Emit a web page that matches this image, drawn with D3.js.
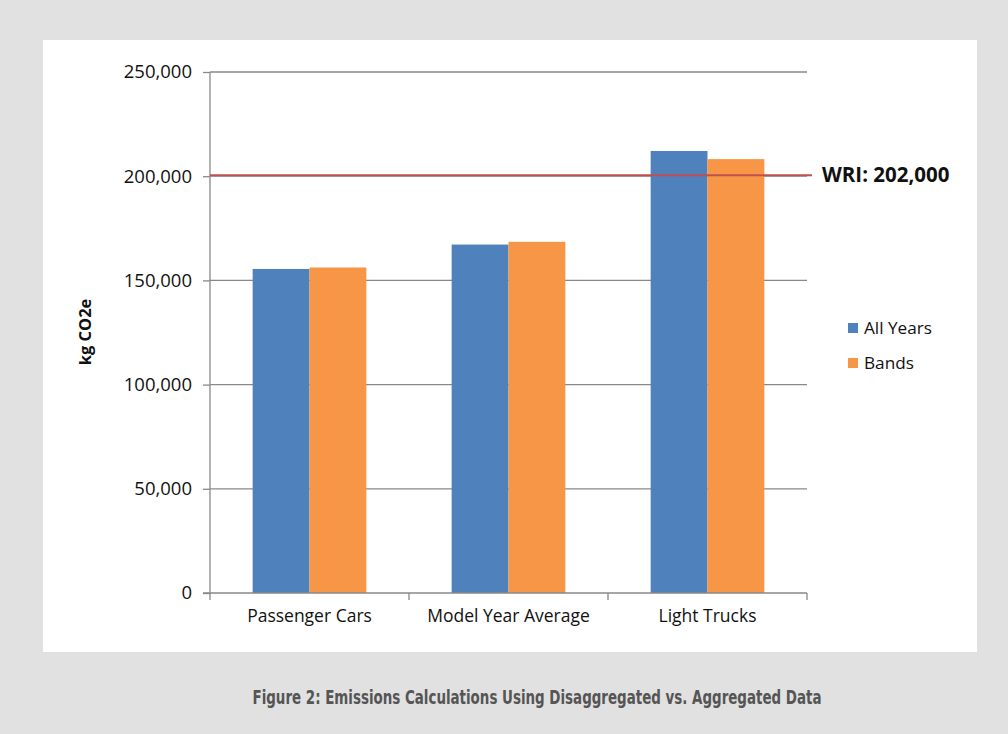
<!DOCTYPE html>
<html><head><meta charset="utf-8">
<script src="https://cdn.jsdelivr.net/npm/d3@7"></script>
<style>
body{margin:0;background:#e1e1e1;}
svg{display:block;}
</style></head>
<body>
<svg id="chart" width="1008" height="734"></svg>
<script>
const categories = ["Passenger Cars", "Model Year Average", "Light Trucks"];
const seriesNames = ["All Years", "Bands"];
const allYears = [155500, 167200, 212100];
const bands = [156200, 168500, 208200];
const yTicks = [0, 50000, 100000, 150000, 200000, 250000];
const wriValue = 200500;
const wriLabel = "WRI: 202,000";
const yTitle = "kg CO2e";
const caption = "Figure 2: Emissions Calculations Using Disaggregated vs. Aggregated Data";
const colors = ["#4f81bd", "#f79646"];

(function(){
const svg = d3.select("#chart");
const font = "'Open Sans','Noto Sans',sans-serif";

svg.append("rect").attr("x",0).attr("y",0).attr("width",1008).attr("height",734).attr("fill","#e1e1e1");
svg.append("rect").attr("x",43).attr("y",40).attr("width",934).attr("height",612).attr("fill","#ffffff");

const pL = 210, pR = 807, pT = 72, pB = 593;
const x = d3.scaleBand().domain(categories).range([pL, pR]).paddingInner(0).paddingOuter(0);
const y = d3.scaleLinear().domain([0, 250000]).range([pB, pT]);
const x1 = d3.scaleBand().domain(seriesNames).range([0, x.bandwidth()]).paddingOuter(0.75).paddingInner(0);

svg.append("g").selectAll("line").data(yTicks.filter(d=>d>0)).join("line")
  .attr("x1", pL).attr("x2", pR)
  .attr("y1", d=>y(d)).attr("y2", d=>y(d))
  .attr("stroke","#898989").attr("stroke-width",1.3);

const data = categories.map((c,i)=>({cat:c, vals:[allYears[i], bands[i]]}));
const g = svg.append("g");
data.forEach(d=>{
  d.vals.forEach((v,j)=>{
    g.append("rect")
      .attr("x", x(d.cat)+x1(seriesNames[j]))
      .attr("y", y(v))
      .attr("width", x1.bandwidth())
      .attr("height", y(0)-y(v))
      .attr("fill", colors[j]);
  });
});

const yAxis = d3.axisLeft(y).tickValues(yTicks).tickSize(7).tickPadding(11)
  .tickFormat(d3.format(","));
const ya = svg.append("g").attr("transform",`translate(${pL},0)`).call(yAxis);
ya.select(".domain").attr("stroke","#898989").attr("stroke-width",1.3).attr("d",`M0,${pT}V${pB}`);
ya.selectAll(".tick line").attr("stroke","#898989").attr("stroke-width",1.3);
ya.selectAll("text").attr("font-family",font).attr("font-size",18.5).attr("fill","#111");

const xAxis = d3.axisBottom(x).tickSize(0).tickPadding(17);
const xa = svg.append("g").attr("transform",`translate(0,${pB})`).call(xAxis);
xa.select(".domain").attr("stroke","#898989").attr("stroke-width",1.3).attr("d",`M${pL-7},0H${pR}`);
xa.selectAll("text").attr("font-family",font).attr("font-size",17.5).attr("fill","#111");
const xt = [pL, ...categories.map(c=>x(c)+x.bandwidth())];
svg.append("g").selectAll("line").data(xt).join("line")
  .attr("x1",d=>d).attr("x2",d=>d).attr("y1",pB).attr("y2",pB+7)
  .attr("stroke","#898989").attr("stroke-width",1.3);

svg.append("line").attr("x1", pL).attr("x2", 812)
  .attr("y1", y(wriValue)).attr("y2", y(wriValue))
  .attr("stroke","#c0504d").attr("stroke-width",2);
svg.append("text").attr("x", 822).attr("y", y(wriValue)+7)
  .attr("font-family",font).attr("font-weight","bold").attr("font-size",20.5)
  .attr("fill","#111").text(wriLabel);

svg.append("text").attr("transform",`translate(91,332) rotate(-90)`)
  .attr("text-anchor","middle").attr("font-family",font).attr("font-weight","bold")
  .attr("font-size",16.5).attr("fill","#111").text(yTitle);

const leg = svg.append("g");
seriesNames.forEach((s,i)=>{
  const ly = 323 + i*35;
  leg.append("rect").attr("x",848).attr("y",ly).attr("width",10).attr("height",10).attr("fill",colors[i]);
  leg.append("text").attr("x",864).attr("y",ly+11).attr("font-family",font).attr("font-size",17.2)
    .attr("fill","#111").text(s);
});

svg.append("text").attr("x",537).attr("y",704).attr("text-anchor","middle")
  .attr("font-family","'Liberation Sans Narrow','DejaVu Sans Condensed','Roboto',sans-serif")
  .attr("font-weight","bold").attr("font-size",19).attr("fill","#555555")
  .attr("textLength",569).attr("lengthAdjust","spacingAndGlyphs")
  .text(caption);
})();
</script>
</body></html>
